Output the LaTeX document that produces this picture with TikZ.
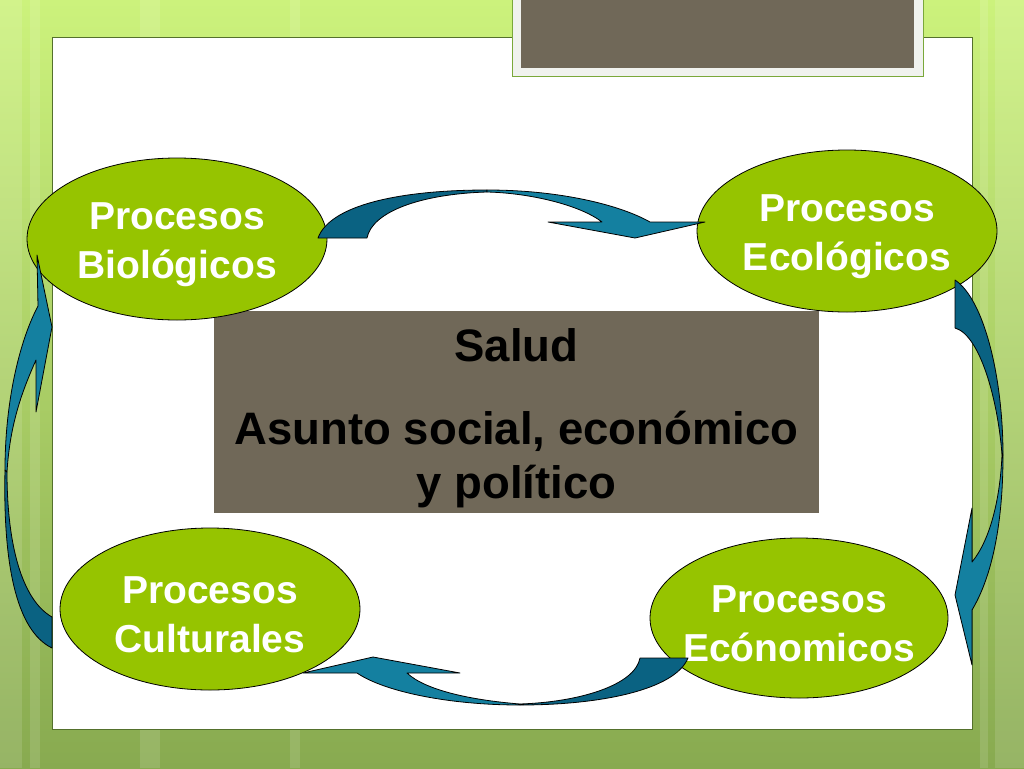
\documentclass[tikz,border=0pt]{standalone}
\usepackage{fontspec}
\setmainfont{Liberation Sans}
\usetikzlibrary{shapes.geometric}
\definecolor{bgtop}{RGB}{204,242,124}
\definecolor{bgbot}{RGB}{136,170,80}
\definecolor{panelline}{RGB}{84,112,44}
\definecolor{boxgrey}{RGB}{112,104,88}
\definecolor{framegrey}{RGB}{240,242,238}
\definecolor{framegreen}{RGB}{122,168,58}
\definecolor{ellgreen}{RGB}{150,196,0}
\definecolor{arrdark}{RGB}{10,98,130}
\definecolor{arrlight}{RGB}{20,128,160}
\begin{document}
\begin{tikzpicture}[x=1pt,y=-1pt,
  proc/.style={ellipse, draw=black, line width=0.8pt, fill=ellgreen,
    minimum width=300pt, minimum height=162pt, inner sep=0pt},
  proctext/.style={text=white, inner sep=0pt, yshift=-6pt,
    font=\bfseries\fontsize{39}{49}\selectfont, align=center},
  arrdk/.style={fill=arrdark, draw=black, line width=0.8pt, line join=round},
  arrlt/.style={fill=arrlight, draw=black, line width=0.8pt, line join=round},
  stripe/.style={fill=white, opacity=0.12}]
\useasboundingbox (0,0) rectangle (1024,768);
% background
\shade[top color=bgtop, bottom color=bgbot] (0,0) rectangle (1024,768);
\fill[stripe] (0,0) rectangle (22,768);
\fill[stripe] (30,0) rectangle (40,768);
\fill[stripe] (995,0) rectangle (1024,768);
\fill[stripe] (980,0) rectangle (988,768);
\fill[stripe] (140,0) rectangle (160,768);
\fill[stripe] (290,0) rectangle (300,768);
% white panel
\node[draw=panelline, fill=white, line width=0.8pt, anchor=north west,
  minimum width=920pt, minimum height=692pt, inner sep=0pt] (panel) at (52,37) {};
% top title box
\node[draw=framegreen, fill=framegrey, line width=1.2pt, anchor=north west,
  minimum width=411pt, minimum height=88pt, inner sep=0pt] (frame) at (512,-12) {};
\node[fill=boxgrey, anchor=north west, minimum width=393pt, minimum height=80pt,
  inner sep=0pt] (title) at (521,-12) {};
% central box
\node[fill=boxgrey, minimum width=605pt, minimum height=202pt, inner sep=0pt]
  (salud) at (516.5,412) {};
\node[align=center, inner sep=0pt, yshift=-6pt,
  font=\bfseries\fontsize{45.5}{54}\selectfont] (saludtext) at (salud)
  {Salud\\[29pt]Asunto social, económico\\y político};
% ellipses
\node[proc] (bio) at (177,239) {};
\node[proctext] (biot) at (bio) {Procesos\\Biológicos};
\node[proc] (eco) at (847,231) {};
\node[proctext] (ecot) at (eco) {Procesos\\Ecológicos};
\node[proc] (cul) at (210,609) {};
\node[proctext] (cult) at (cul) {Procesos\\Culturales};
\node[proc, minimum width=298pt, minimum height=160pt] (econ) at (799,618) {};
\node[proctext] (econt) at (econ) {Procesos\\Ecónomicos};
% top arrow: bio -> eco
\draw[arrdk] (318,238) -- (367,238) .. controls (372,212) and (420,194) .. (487,192)
  -- (487,190) .. controls (400,190) and (330,205) .. (318,238) -- cycle;
\draw[arrlt] (487,190) .. controls (560,190) and (620,205) .. (650,222) -- (705,222)
  -- (635,238) -- (548,222) -- (602,222) .. controls (580,205) and (530,193) .. (487,192) -- cycle;
% right arrow: eco -> econ
\draw[arrdk] (955,280) .. controls (985,300) and (1003,380) .. (1003,455) -- (1002,455)
  .. controls (998,400) and (980,335) .. (955,328) -- cycle;
\draw[arrlt] (1003,455) .. controls (1003,530) and (990,580) .. (972,610) -- (972,665)
  -- (955,595) -- (972,508) -- (972,562) .. controls (990,540) and (1000,500) .. (1002,455) -- cycle;
% bottom arrow: econ -> cul
\draw[arrdk] (640,658) -- (688,658) .. controls (675,690) and (600,705) .. (520,705)
  -- (520,704) .. controls (580,702) and (635,685) .. (640,658) -- cycle;
\draw[arrlt] (520,705) .. controls (450,705) and (385,692) .. (357,673) -- (303,673)
  -- (373,657) -- (460,673) -- (407,673) .. controls (425,690) and (470,700) .. (520,704) -- cycle;
% left arrow: cul -> bio
\draw[arrdk] (5,470) .. controls (3,560) and (15,630) .. (52,648) -- (52,617)
  .. controls (22,600) and (7,545) .. (7,472) -- cycle;
\draw[arrlt] (5,470) .. controls (5,400) and (20,340) .. (38,306) -- (37,255) -- (52,327)
  -- (36,412) -- (36,360) .. controls (25,385) and (10,420) .. (7,472) -- cycle;
\end{tikzpicture}
\end{document}
